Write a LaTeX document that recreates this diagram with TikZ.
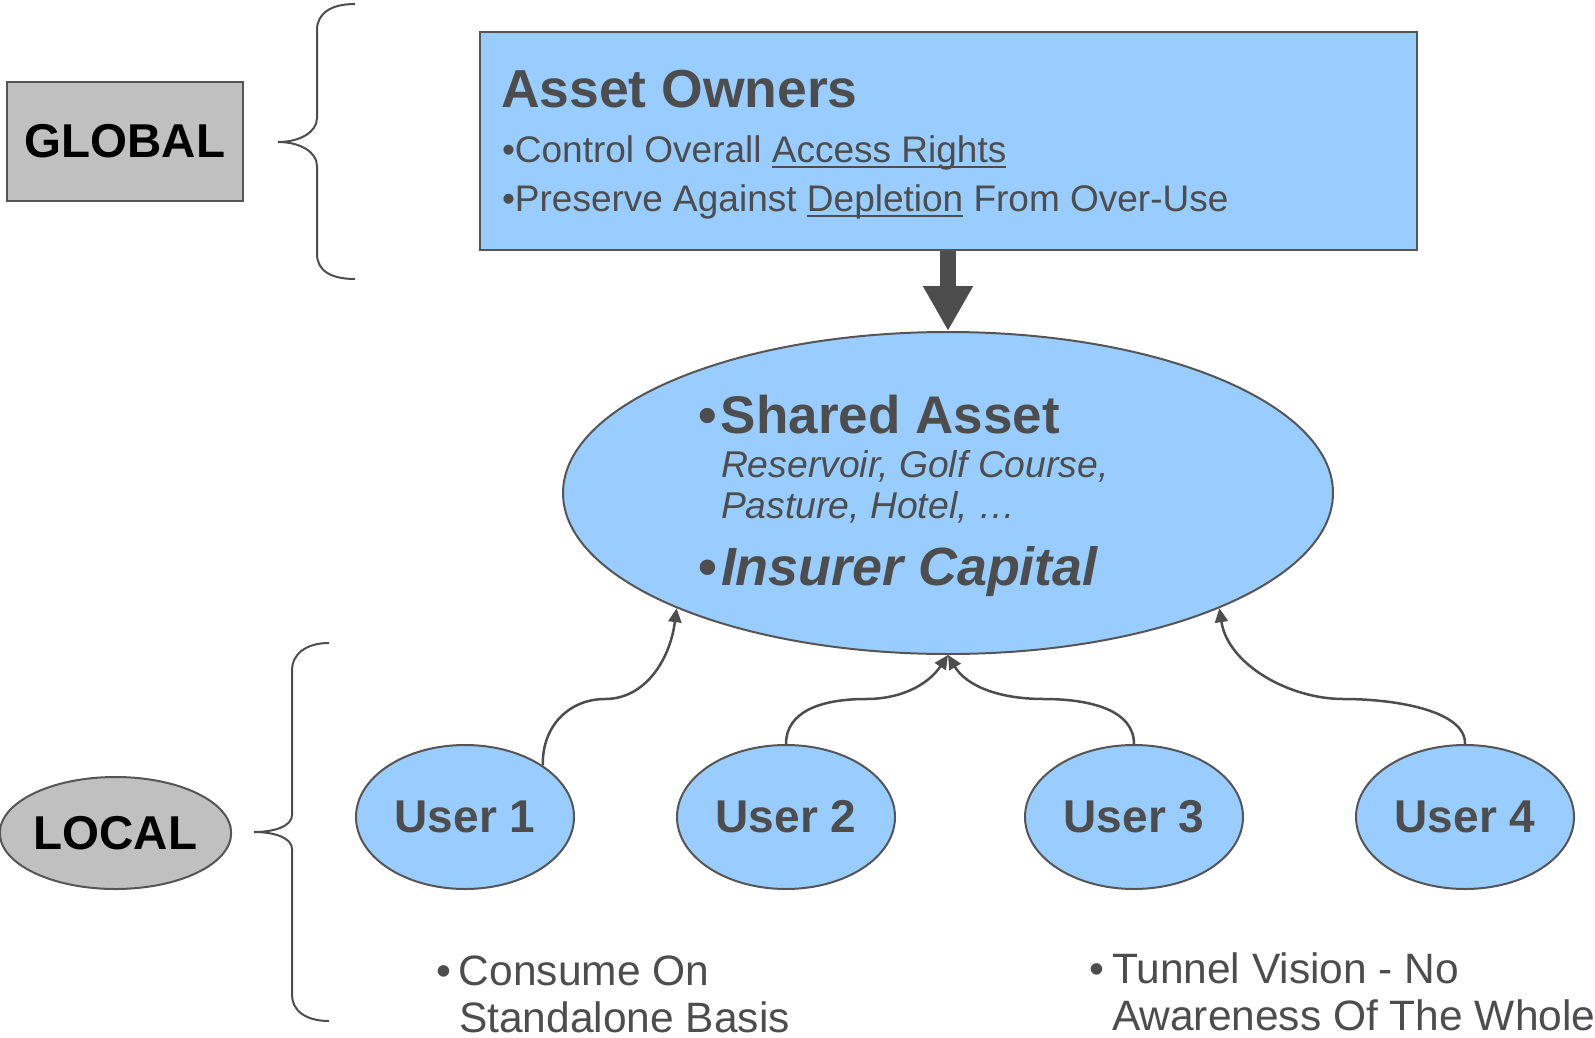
\documentclass[tikz,border=0pt]{standalone}
\usepackage{fontspec}
\setmainfont{Liberation Sans}
\usetikzlibrary{shapes.geometric,arrows.meta}
\definecolor{ink}{HTML}{4D4D4D}
\definecolor{skyfill}{HTML}{99CCFF}
\definecolor{greyfill}{HTML}{C0C0C0}
\definecolor{edge}{HTML}{555555}
\newcommand{\lineunder}[1]{\setbox0\hbox{#1}\rlap{\rule[-6pt]{\wd0}{2pt}}\box0\relax}
\begin{document}
\begin{tikzpicture}[x=1pt,y=-1pt,
  txt/.style={inner sep=0pt, outer sep=0pt, anchor=base west, text=ink},
  useroval/.style={ellipse, draw=edge, fill=skyfill, line width=2pt,
    minimum width=218pt, minimum height=144pt, inner sep=0pt, text=ink,
    font=\fontsize{46}{46}\selectfont\bfseries},
  link/.style={draw=ink, line width=2.5pt, -{Triangle[width=13pt,length=14pt]}},
  bracestyle/.style={draw=ink, line width=2pt}
]
\useasboundingbox (0,0) rectangle (1595,1038);

% left labels
\node[draw=edge, fill=greyfill, line width=2pt, minimum width=236pt, minimum height=119pt,
  inner sep=0pt, font=\fontsize{47.5}{47.5}\selectfont\bfseries] (global) at (125,141.5) {GLOBAL};
\node[ellipse, draw=edge, fill=greyfill, line width=2pt, minimum width=227pt, minimum height=112pt,
  inner sep=0pt, font=\fontsize{47.5}{47.5}\selectfont\bfseries] (local) at (115.5,833) {LOCAL};

% braces
\draw[bracestyle] (355,4) .. controls (330,4) and (317,14) .. (317,30) -- (317,118)
  .. controls (317,132) and (300,142) .. (278,142)
  .. controls (300,142) and (317,152) .. (317,166) -- (317,254)
  .. controls (317,270) and (330,279) .. (355,279);
\draw[bracestyle] (329,643) .. controls (305,643) and (292,655) .. (292,670) -- (292,815)
  .. controls (292,826) and (275,832) .. (254,832)
  .. controls (275,832) and (292,838) .. (292,849) -- (292,995)
  .. controls (292,1010) and (305,1021) .. (329,1021);

% asset owners box
\node[draw=edge, fill=skyfill, line width=2pt, minimum width=937pt, minimum height=218pt,
  inner sep=0pt] (owners) at (948.5,141) {};
\node[txt, font=\fontsize{53.5}{53.5}\selectfont\bfseries] (ownerstitle) at (501,108) {Asset Owners};
\node[txt, font=\fontsize{37}{37}\selectfont] (ownersa) at (502,162) {•Control Overall \lineunder{Access Rights}};
\node[txt, font=\fontsize{37}{37}\selectfont] (ownersb) at (502,211) {•Preserve Against \lineunder{Depletion} From Over-Use};

% shared asset ellipse
\node[ellipse, draw=edge, fill=skyfill, line width=2pt, minimum width=770pt, minimum height=322pt,
  inner sep=0pt] (shared) at (948,493) {};
\node[txt, font=\fontsize{53}{53}\selectfont\bfseries] (sharedt) at (698,433) {\makebox[23pt][l]{•}Shared Asset};
\node[txt, font=\fontsize{37.3}{37.3}\selectfont\itshape] (shareda) at (721,477) {Reservoir, Golf Course,};
\node[txt, font=\fontsize{37.3}{37.3}\selectfont\itshape] (sharedb) at (721,518) {Pasture, Hotel, …};
\node[txt, font=\fontsize{53.8}{53.8}\selectfont\bfseries] (insurer) at (698,585) {\makebox[23pt][l]{•}\textit{Insurer Capital}};

% big arrow
\draw[draw=ink, line width=16pt, -{Triangle[width=47pt,length=45pt]}] (owners.south -| shared.north) -- (shared.north);

% users
\node[useroval] (u1) at (465,817) {User 1};
\node[useroval] (u2) at (786,817) {User 2};
\node[useroval] (u3) at (1134,817) {User 3};
\node[useroval] (u4) at (1465,817) {User 4};

% connectors
\draw[link] (u1.north east) .. controls (542,725) and (570,699) .. (605,699)
  .. controls (645,699) and (670,660) .. (shared.203);
\draw[link] (u2.north) .. controls (786,712) and (820,699) .. (866,699)
  .. controls (905,699) and (930,682) .. (shared.south);
\draw[link] (u3.north) .. controls (1134,710) and (1090,699) .. (1044,699)
  .. controls (995,699) and (965,684) .. (shared.south);
\draw[link] (u4.north) .. controls (1466,712) and (1400,699) .. (1343,699)
  .. controls (1290,699) and (1228,665) .. (shared.-23);

% bottom notes
\node[txt, font=\fontsize{42.5}{42.5}\selectfont] (consumea) at (436,985) {\makebox[23pt][l]{•}Consume On};
\node[txt, font=\fontsize{42.5}{42.5}\selectfont] (consumeb) at (459,1032) {Standalone Basis};
\node[txt, font=\fontsize{42.5}{42.5}\selectfont] (tunnela) at (1089,983) {\makebox[23pt][l]{•}Tunnel Vision - No};
\node[txt, font=\fontsize{42.5}{42.5}\selectfont] (tunnelb) at (1112,1030) {Awareness Of The Whole};
\end{tikzpicture}
\end{document}
